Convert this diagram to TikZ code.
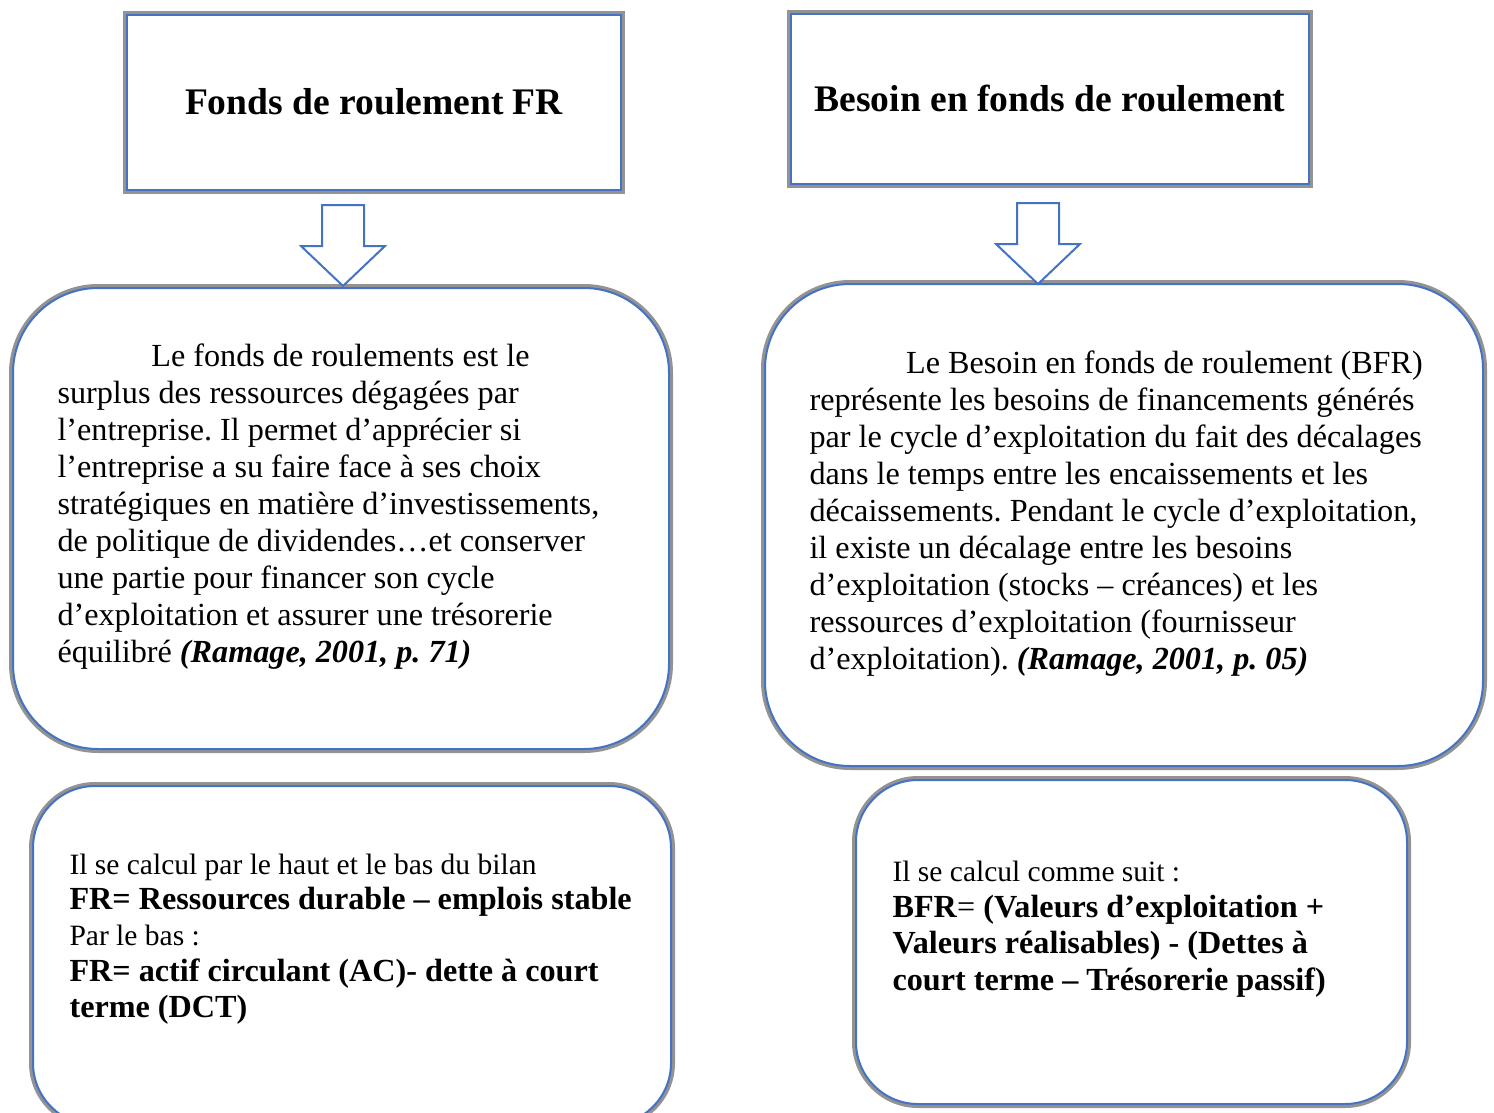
\documentclass[tikz,border=0pt]{standalone}
\usepackage{fontspec}
\setmainfont{Liberation Serif}
\usepackage{tikz}
\usetikzlibrary{positioning}
\definecolor{bleu}{HTML}{4472C4}
\definecolor{grisbord}{HTML}{939393}
\newcommand{\pix}{0.3728pt}
\frenchspacing
\tikzstyle{cadre} = [draw=bleu, fill=white, line width=2*\pix, rectangle, inner sep=0pt,
                     preaction={draw=grisbord, line width=8*\pix}]
\tikzstyle{bulle} = [cadre, rounded corners=85*\pix]
\tikzstyle{petitebulle} = [cadre, rounded corners=62*\pix]
\tikzstyle{titre} = [font=\fontsize{14}{16}\selectfont\bfseries]
\tikzstyle{texte} = [anchor=north west, inner sep=0pt, align=left, font=\fontsize{12}{13.8}\selectfont]
\tikzstyle{fleche} = [draw=bleu, fill=white, line width=2*\pix, line join=miter]
\newcommand{\pet}[1]{{\fontsize{11}{13.4}\selectfont #1}}
\newcommand{\source}[1]{\textbf{\textit{#1}}}
\newcommand{\flechebas}[1]{\draw[fleche] (#1) -- ++(-42,-40) -- ++(21,0) -- ++(0,-41) -- ++(42,0) -- ++(0,41) -- ++(21,0) -- cycle;}
\begin{document}
\begin{tikzpicture}[x=\pix, y=-\pix]
\clip (0,0) rectangle (1494,1113);
\fill[white] (0,0) rectangle (1494,1113);
% titres
\node[cadre, titre, minimum width=494*\pix, minimum height=175*\pix] (fr) at (374,102) {\raisebox{-2pt}{Fonds de roulement FR}};
\node[cadre, titre, minimum width=518*\pix, minimum height=170*\pix] (bfr) at (1050,99) {\raisebox{-1pt}{Besoin en fonds de roulement}};
% definitions
\node[bulle, minimum width=656*\pix, minimum height=461*\pix] (deffr) at (341,518.5) {};
\node[bulle, minimum width=718*\pix, minimum height=482*\pix] (defbfr) at (1124,525) {};
% calculs
\node[petitebulle, minimum width=638*\pix, minimum height=339*\pix] (calcfr) at (352,955.5) {};
\node[petitebulle, minimum width=551*\pix, minimum height=324*\pix] (calcbfr) at (1131.5,942) {};
% fleches
\coordinate (pointefr) at (343,286);
\coordinate (pointebfr) at (1038,284);
\flechebas{pointefr}
\flechebas{pointebfr}
% textes
\node[texte] (txtfr) at (57,343) {%
\hspace*{35pt}Le fonds de roulements est le\\
surplus des ressources dégagées par\\
l’entreprise. Il permet d’apprécier si\\
l’entreprise a su faire face à ses choix\\
stratégiques en matière d’investissements,\\
de politique de dividendes…et conserver\\
une partie pour financer son cycle\\
d’exploitation et assurer une trésorerie\\
équilibré \source{(Ramage, 2001, p. 71)}};
\node[texte] (txtbfr) at (809,350) {%
\hspace*{36pt}Le Besoin en fonds de roulement (BFR)\\
représente les besoins de financements générés\\
par le cycle d’exploitation du fait des décalages\\
dans le temps entre les encaissements et les\\
décaissements. Pendant le cycle d’exploitation,\\
il existe un décalage entre les besoins\\
d’exploitation (stocks – créances) et les\\
ressources d’exploitation (fournisseur\\
d’exploitation). \source{(Ramage, 2001, p. 05)}};
\node[texte, font=\fontsize{12}{13.4}\selectfont] (formfr) at (69,853) {%
\pet{Il se calcul par le haut et le bas du bilan}\\
\textbf{FR= Ressources durable – emplois stable}\\
\pet{Par le bas :}\\
\textbf{FR= actif circulant (AC)- dette à court}\\
\textbf{terme (DCT)}};
\node[texte, font=\fontsize{12}{13.6}\selectfont] (formbfr) at (892,860) {%
\pet{Il se calcul comme suit :}\\
\textbf{BFR}= \textbf{(Valeurs d’exploitation +}\\
\textbf{Valeurs réalisables) - (Dettes à}\\
\textbf{court terme – Trésorerie passif)}};
\end{tikzpicture}
\end{document}
